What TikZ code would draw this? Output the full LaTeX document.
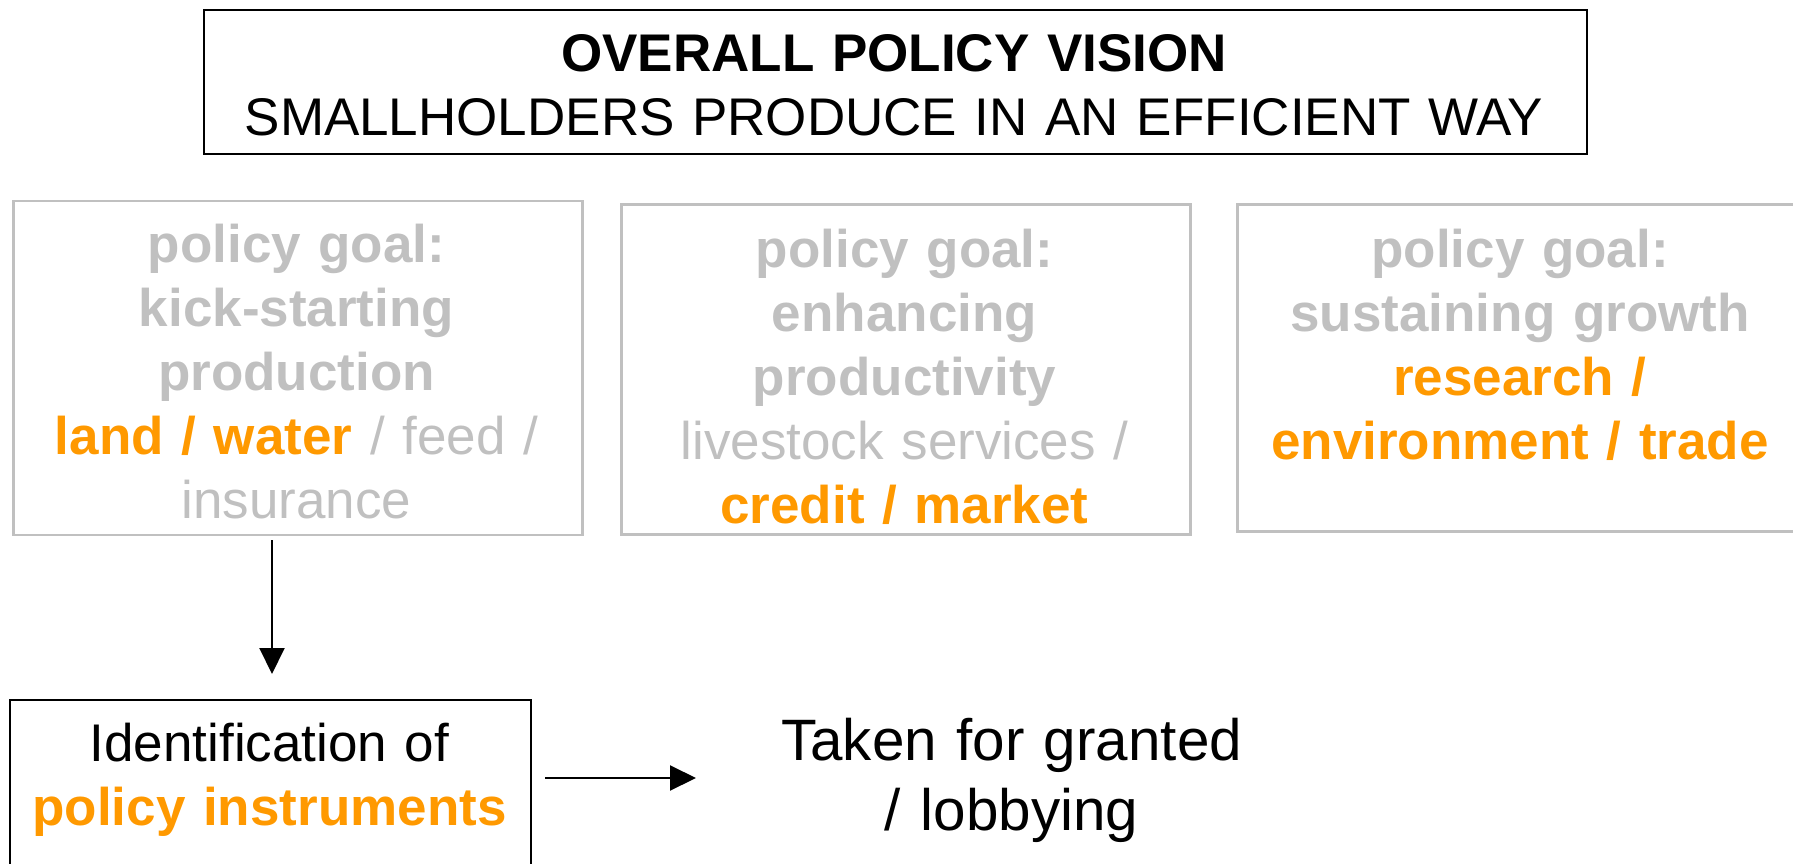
\documentclass[tikz,border=0pt]{standalone}
\usepackage{fontspec}
\setmainfont{Liberation Sans}
\usetikzlibrary{arrows.meta}
\definecolor{ggrey}{HTML}{C0C0C0}
\definecolor{gorange}{HTML}{FF9900}
\newcommand\fsmain{\fontsize{53}{64}\selectfont}
\newcommand\fsbig{\fontsize{58.4}{70}\selectfont}
\tikzset{
  greybox/.style={draw=ggrey, line width=2.5pt, minimum width=569pt, minimum height=334pt, inner sep=0pt, anchor=north west},
  blackbox/.style={draw=black, line width=2pt, inner sep=0pt, anchor=north west},
  txt/.style={anchor=base, align=center, inner sep=0pt, font=\fsmain},
  arr/.style={line width=2pt, -{Triangle[length=26pt,width=25pt]}},
}
\begin{document}
\begin{tikzpicture}[x=1pt,y=-1pt]
\useasboundingbox (0,0) rectangle (1793,864);
% boxes
\node (top) [blackbox, minimum width=1383pt, minimum height=143pt] at (203,9.5) {};
\node (b1) [greybox] at (12,199.5) {};
\node (b2) [greybox, minimum height=330pt] at (620,203) {};
\node (b3) [greybox, minimum height=327pt] at (1236,203) {};
\node (bx) [blackbox, minimum width=521pt, minimum height=220pt] at (9,699) {};
% texts
\node (ttl) [txt, text width=1380pt] at (894,71.7)
  {\textbf{OVERALL POLICY VISION}\\SMALLHOLDERS PRODUCE IN AN EFFICIENT WAY};
\node (g1) [txt, text width=560pt, text=ggrey] at (296.5,262)
  {\textbf{policy goal:}\\\textbf{kick-starting}\\\textbf{production}\\\textbf{\textcolor{gorange}{land / water}} / feed /\\insurance};
\node (g2) [txt, text width=560pt, text=ggrey] at (904.5,267)
  {\textbf{policy goal:}\\\textbf{enhancing}\\\textbf{productivity}\\livestock services /\\\textbf{\textcolor{gorange}{credit / market}}};
\node (g3) [txt, text width=600pt, text=ggrey] at (1520,267)
  {\textbf{policy goal:}\\\textbf{sustaining growth}\\\textbf{\textcolor{gorange}{research /}}\\\textbf{\textcolor{gorange}{environment / trade}}};
\node (inst) [txt, text width=510pt] at (269.5,761.7)
  {Identification of\\\textbf{\textcolor{gorange}{policy instruments}}};
\node (tk) [txt, text width=600pt, font=\fsbig] at (1011.6,760)
  {Taken for granted\\/ lobbying};
% connectors
\draw[arr, shorten <=4pt, shorten >=25pt] (b1.south -| 272,0) -- (bx.north -| 272,0);
\coordinate (r1) at (545,778);
\coordinate (r2) at (696,778);
\draw[arr] (r1) -- (r2);
\end{tikzpicture}
\end{document}
